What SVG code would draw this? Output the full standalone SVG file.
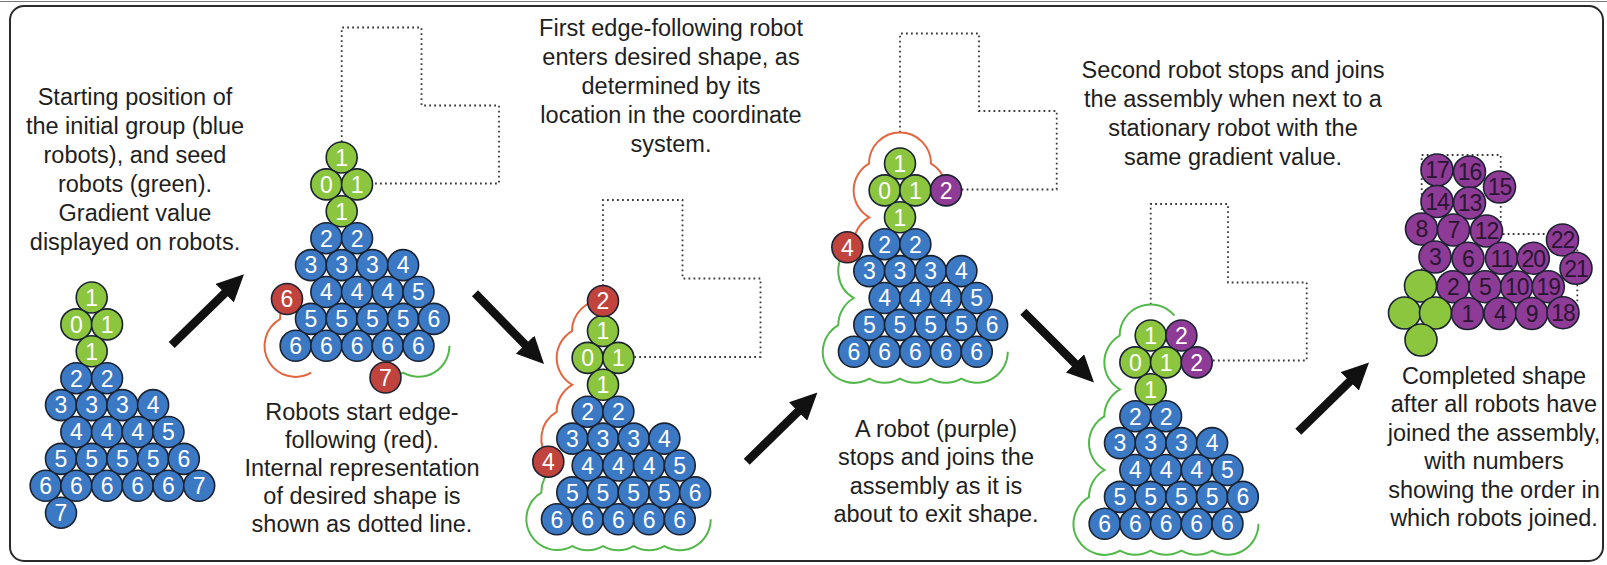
<svg xmlns="http://www.w3.org/2000/svg" width="1607" height="565" viewBox="0 0 1607 565">
<style>
  .txt{font-family:"Liberation Sans",Arial,sans-serif;font-size:23.5px;fill:#1e1e1e;text-anchor:middle}
  .n circle{stroke:#1b2230;stroke-width:1.6}
  .n text{font-family:"Liberation Sans",Arial,sans-serif;font-size:23px;fill:#fff;text-anchor:middle}
  .b circle{fill:#3c79c4}
  .g circle{fill:#8cc63f}
  .r circle{fill:#c0433e}
  .p circle{fill:#8e3b97}
  .q circle{fill:#8e3b97}
  .q text{fill:#2a1630;letter-spacing:-1px}
  .shape{fill:none;stroke:#3a3a3a;stroke-width:1.8;stroke-dasharray:1.8 3.2}
  .ahead{fill:none;stroke:#e2663f;stroke-width:2}
  .behind{fill:none;stroke:#52b84a;stroke-width:2}
  .arrow{stroke:#111;stroke-width:8.5;marker-end:url(#ah)}
</style>
<defs>
  <marker id="ah" markerUnits="userSpaceOnUse" markerWidth="27" markerHeight="26" viewBox="0 0 27 26" refX="3" refY="13" orient="auto">
    <path d="M0,0 L27,13 L0,26 z" fill="#111"/>
  </marker>
</defs>
<rect width="1607" height="565" fill="#fff"/>
<line x1="0" y1="1.5" x2="1607" y2="1.5" stroke="#777" stroke-width="1.2"/>
<rect x="10" y="6" width="1593" height="555" rx="14" fill="#fff" stroke="#2a2a2a" stroke-width="2"/>

<!-- captions -->
<g id="caption-start" class="txt">
  <text x="135" y="105">Starting position of</text>
  <text x="135" y="134">the initial group (blue</text>
  <text x="135" y="163">robots), and seed</text>
  <text x="135" y="192">robots (green).</text>
  <text x="135" y="221">Gradient value</text>
  <text x="135" y="250">displayed on robots.</text>
</g>
<g id="caption-edge" class="txt">
  <text x="362" y="419.5">Robots start edge-</text>
  <text x="362" y="447.5">following (red).</text>
  <text x="362" y="475.5">Internal representation</text>
  <text x="362" y="503.5">of desired shape is</text>
  <text x="362" y="531.5">shown as dotted line.</text>
</g>
<g id="caption-enter" class="txt">
  <text x="671" y="36">First edge-following robot</text>
  <text x="671" y="65">enters desired shape, as</text>
  <text x="671" y="94">determined by its</text>
  <text x="671" y="123">location in the coordinate</text>
  <text x="671" y="152">system.</text>
</g>
<g id="caption-join" class="txt">
  <text x="936" y="436.5">A robot (purple)</text>
  <text x="936" y="465">stops and joins the</text>
  <text x="936" y="493.5">assembly as it is</text>
  <text x="936" y="522">about to exit shape.</text>
</g>
<g id="caption-second" class="txt">
  <text x="1233" y="78">Second robot stops and joins</text>
  <text x="1233" y="107">the assembly when next to a</text>
  <text x="1233" y="136">stationary robot with the</text>
  <text x="1233" y="165">same gradient value.</text>
</g>
<g id="caption-done" class="txt">
  <text x="1494" y="383.5">Completed shape</text>
  <text x="1494" y="412">after all robots have</text>
  <text x="1494" y="440.5">joined the assembly,</text>
  <text x="1494" y="469">with numbers</text>
  <text x="1494" y="497.5">showing the order in</text>
  <text x="1494" y="526">which robots joined.</text>
</g>

<!-- connectors: arrows between stages -->
<g id="connectors">
  <line class="arrow" x1="171.7" y1="345" x2="226.85" y2="291.1"/>
  <line class="arrow" x1="475" y1="293.3" x2="527.25" y2="346.83"/>
  <line class="arrow" x1="746.7" y1="461.7" x2="800.25" y2="409.38"/>
  <line class="arrow" x1="1023.3" y1="311.7" x2="1077.04" y2="365.44"/>
  <line class="arrow" x1="1298.3" y1="431.7" x2="1351.85" y2="379.38"/>
</g>

<!-- stage 1: initial group with seed robots -->
<g id="stage1">
  <g class="n g" transform="translate(91.7,297.5)"><circle r="15.5"/><text y="8.3">1</text></g>
  <g class="n g" transform="translate(76.35,324.4)"><circle r="15.5"/><text y="8.3">0</text></g>
  <g class="n g" transform="translate(107.05,324.4)"><circle r="15.5"/><text y="8.3">1</text></g>
  <g class="n g" transform="translate(91.7,351.3)"><circle r="15.5"/><text y="8.3">1</text></g>
  <g class="n b" transform="translate(76.35,378.2)"><circle r="15.5"/><text y="8.3">2</text></g>
  <g class="n b" transform="translate(107.05,378.2)"><circle r="15.5"/><text y="8.3">2</text></g>
  <g class="n b" transform="translate(61,405.1)"><circle r="15.5"/><text y="8.3">3</text></g>
  <g class="n b" transform="translate(91.7,405.1)"><circle r="15.5"/><text y="8.3">3</text></g>
  <g class="n b" transform="translate(122.4,405.1)"><circle r="15.5"/><text y="8.3">3</text></g>
  <g class="n b" transform="translate(153.1,405.1)"><circle r="15.5"/><text y="8.3">4</text></g>
  <g class="n b" transform="translate(76.35,432)"><circle r="15.5"/><text y="8.3">4</text></g>
  <g class="n b" transform="translate(107.05,432)"><circle r="15.5"/><text y="8.3">4</text></g>
  <g class="n b" transform="translate(137.75,432)"><circle r="15.5"/><text y="8.3">4</text></g>
  <g class="n b" transform="translate(168.45,432)"><circle r="15.5"/><text y="8.3">5</text></g>
  <g class="n b" transform="translate(61,458.9)"><circle r="15.5"/><text y="8.3">5</text></g>
  <g class="n b" transform="translate(91.7,458.9)"><circle r="15.5"/><text y="8.3">5</text></g>
  <g class="n b" transform="translate(122.4,458.9)"><circle r="15.5"/><text y="8.3">5</text></g>
  <g class="n b" transform="translate(153.1,458.9)"><circle r="15.5"/><text y="8.3">5</text></g>
  <g class="n b" transform="translate(183.8,458.9)"><circle r="15.5"/><text y="8.3">6</text></g>
  <g class="n b" transform="translate(45.65,485.8)"><circle r="15.5"/><text y="8.3">6</text></g>
  <g class="n b" transform="translate(76.35,485.8)"><circle r="15.5"/><text y="8.3">6</text></g>
  <g class="n b" transform="translate(107.05,485.8)"><circle r="15.5"/><text y="8.3">6</text></g>
  <g class="n b" transform="translate(137.75,485.8)"><circle r="15.5"/><text y="8.3">6</text></g>
  <g class="n b" transform="translate(168.45,485.8)"><circle r="15.5"/><text y="8.3">6</text></g>
  <g class="n b" transform="translate(199.15,485.8)"><circle r="15.5"/><text y="8.3">7</text></g>
  <g class="n b" transform="translate(61,512.7)"><circle r="15.5"/><text y="8.3">7</text></g>
</g>

<!-- stage 2: edge-following starts -->
<g id="stage2">
  <path class="shape" d="M341.7,142 V27.5 H421.5 V105.5 H499 V183.5 H373"/>
  <path class="ahead" d="M287.1,299.1 A31,31 0 0 0 279.99,319.03 A31,31 0 0 0 311.15,372.65"/>
  <path class="behind" d="M385.55,376.7 A31,31 0 0 0 403.1,372.73 A31,31 0 0 0 449.45,345.8"/>
  <g class="n g" transform="translate(341.7,157.5)"><circle r="15.5"/><text y="8.3">1</text></g>
  <g class="n g" transform="translate(326.35,184.4)"><circle r="15.5"/><text y="8.3">0</text></g>
  <g class="n g" transform="translate(357.05,184.4)"><circle r="15.5"/><text y="8.3">1</text></g>
  <g class="n g" transform="translate(341.7,211.3)"><circle r="15.5"/><text y="8.3">1</text></g>
  <g class="n b" transform="translate(326.35,238.2)"><circle r="15.5"/><text y="8.3">2</text></g>
  <g class="n b" transform="translate(357.05,238.2)"><circle r="15.5"/><text y="8.3">2</text></g>
  <g class="n b" transform="translate(311,265.1)"><circle r="15.5"/><text y="8.3">3</text></g>
  <g class="n b" transform="translate(341.7,265.1)"><circle r="15.5"/><text y="8.3">3</text></g>
  <g class="n b" transform="translate(372.4,265.1)"><circle r="15.5"/><text y="8.3">3</text></g>
  <g class="n b" transform="translate(403.1,265.1)"><circle r="15.5"/><text y="8.3">4</text></g>
  <g class="n b" transform="translate(326.35,292)"><circle r="15.5"/><text y="8.3">4</text></g>
  <g class="n b" transform="translate(357.05,292)"><circle r="15.5"/><text y="8.3">4</text></g>
  <g class="n b" transform="translate(387.75,292)"><circle r="15.5"/><text y="8.3">4</text></g>
  <g class="n b" transform="translate(418.45,292)"><circle r="15.5"/><text y="8.3">5</text></g>
  <g class="n b" transform="translate(311,318.9)"><circle r="15.5"/><text y="8.3">5</text></g>
  <g class="n b" transform="translate(341.7,318.9)"><circle r="15.5"/><text y="8.3">5</text></g>
  <g class="n b" transform="translate(372.4,318.9)"><circle r="15.5"/><text y="8.3">5</text></g>
  <g class="n b" transform="translate(403.1,318.9)"><circle r="15.5"/><text y="8.3">5</text></g>
  <g class="n b" transform="translate(433.8,318.9)"><circle r="15.5"/><text y="8.3">6</text></g>
  <g class="n b" transform="translate(295.65,345.8)"><circle r="15.5"/><text y="8.3">6</text></g>
  <g class="n b" transform="translate(326.35,345.8)"><circle r="15.5"/><text y="8.3">6</text></g>
  <g class="n b" transform="translate(357.05,345.8)"><circle r="15.5"/><text y="8.3">6</text></g>
  <g class="n b" transform="translate(387.75,345.8)"><circle r="15.5"/><text y="8.3">6</text></g>
  <g class="n b" transform="translate(418.45,345.8)"><circle r="15.5"/><text y="8.3">6</text></g>
  <g class="n r" transform="translate(287,299)"><circle r="15.5"/><text y="8.3">6</text></g>
  <g class="n r" transform="translate(385.5,377.5)"><circle r="15.5"/><text y="8.3">7</text></g>
</g>

<!-- stage 3: first robot enters the shape -->
<g id="stage3">
  <path class="shape" d="M603,286 V200 H682.5 V278.5 H760.5 V357 H634.5"/>
  <path class="ahead" d="M550,460.1 A31,31 0 0 1 556.67,411.85 A31,31 0 0 1 572.24,384.8 A31,31 0 0 1 572.02,331.15 A31,31 0 0 1 603,300"/>
  <path class="behind" d="M553.2,468 A31,31 0 0 0 541.29,492.53 A31,31 0 0 0 572.3,546.2 A31,31 0 0 0 603,546.2 A31,31 0 0 0 633.7,546.2 A31,31 0 0 0 664.4,546.2 A31,31 0 0 0 710.75,519.3"/>
  <g class="n g" transform="translate(603,331)"><circle r="15.5"/><text y="8.3">1</text></g>
  <g class="n g" transform="translate(587.65,357.9)"><circle r="15.5"/><text y="8.3">0</text></g>
  <g class="n g" transform="translate(618.35,357.9)"><circle r="15.5"/><text y="8.3">1</text></g>
  <g class="n g" transform="translate(603,384.8)"><circle r="15.5"/><text y="8.3">1</text></g>
  <g class="n b" transform="translate(587.65,411.7)"><circle r="15.5"/><text y="8.3">2</text></g>
  <g class="n b" transform="translate(618.35,411.7)"><circle r="15.5"/><text y="8.3">2</text></g>
  <g class="n b" transform="translate(572.3,438.6)"><circle r="15.5"/><text y="8.3">3</text></g>
  <g class="n b" transform="translate(603,438.6)"><circle r="15.5"/><text y="8.3">3</text></g>
  <g class="n b" transform="translate(633.7,438.6)"><circle r="15.5"/><text y="8.3">3</text></g>
  <g class="n b" transform="translate(664.4,438.6)"><circle r="15.5"/><text y="8.3">4</text></g>
  <g class="n b" transform="translate(587.65,465.5)"><circle r="15.5"/><text y="8.3">4</text></g>
  <g class="n b" transform="translate(618.35,465.5)"><circle r="15.5"/><text y="8.3">4</text></g>
  <g class="n b" transform="translate(649.05,465.5)"><circle r="15.5"/><text y="8.3">4</text></g>
  <g class="n b" transform="translate(679.75,465.5)"><circle r="15.5"/><text y="8.3">5</text></g>
  <g class="n b" transform="translate(572.3,492.4)"><circle r="15.5"/><text y="8.3">5</text></g>
  <g class="n b" transform="translate(603,492.4)"><circle r="15.5"/><text y="8.3">5</text></g>
  <g class="n b" transform="translate(633.7,492.4)"><circle r="15.5"/><text y="8.3">5</text></g>
  <g class="n b" transform="translate(664.4,492.4)"><circle r="15.5"/><text y="8.3">5</text></g>
  <g class="n b" transform="translate(695.1,492.4)"><circle r="15.5"/><text y="8.3">6</text></g>
  <g class="n b" transform="translate(556.95,519.3)"><circle r="15.5"/><text y="8.3">6</text></g>
  <g class="n b" transform="translate(587.65,519.3)"><circle r="15.5"/><text y="8.3">6</text></g>
  <g class="n b" transform="translate(618.35,519.3)"><circle r="15.5"/><text y="8.3">6</text></g>
  <g class="n b" transform="translate(649.05,519.3)"><circle r="15.5"/><text y="8.3">6</text></g>
  <g class="n b" transform="translate(679.75,519.3)"><circle r="15.5"/><text y="8.3">6</text></g>
  <g class="n r" transform="translate(603,301)"><circle r="15.5"/><text y="8.3">2</text></g>
  <g class="n r" transform="translate(548.3,461.7)"><circle r="15.5"/><text y="8.3">4</text></g>
</g>

<!-- stage 4: first robot joins -->
<g id="stage4">
  <path class="shape" d="M900,132.5 V33.5 H979 V111 H1056.7 V189.5 H961.5"/>
  <path class="ahead" d="M848.25,248.32 A31,31 0 0 1 853.64,244.33 A31,31 0 0 1 869.24,217.3 A31,31 0 0 1 868.99,163.63 A31,31 0 0 1 900,132.5 A31,31 0 0 1 931.02,163.63 A31,31 0 0 1 946.35,190.4"/>
  <path class="behind" d="M848.25,248.32 A31,31 0 0 0 853.89,298 A31,31 0 0 0 838.29,325.03 A31,31 0 0 0 869.3,378.73 A31,31 0 0 0 900,378.73 A31,31 0 0 0 930.7,378.73 A31,31 0 0 0 961.4,378.73 A31,31 0 0 0 1007.75,351.8"/>
  <g class="n g" transform="translate(900,163.5)"><circle r="15.5"/><text y="8.3">1</text></g>
  <g class="n g" transform="translate(884.65,190.4)"><circle r="15.5"/><text y="8.3">0</text></g>
  <g class="n g" transform="translate(915.35,190.4)"><circle r="15.5"/><text y="8.3">1</text></g>
  <g class="n p" transform="translate(946.05,190.4)"><circle r="15.5"/><text y="8.3">2</text></g>
  <g class="n g" transform="translate(900,217.3)"><circle r="15.5"/><text y="8.3">1</text></g>
  <g class="n b" transform="translate(884.65,244.2)"><circle r="15.5"/><text y="8.3">2</text></g>
  <g class="n b" transform="translate(915.35,244.2)"><circle r="15.5"/><text y="8.3">2</text></g>
  <g class="n b" transform="translate(869.3,271.1)"><circle r="15.5"/><text y="8.3">3</text></g>
  <g class="n b" transform="translate(900,271.1)"><circle r="15.5"/><text y="8.3">3</text></g>
  <g class="n b" transform="translate(930.7,271.1)"><circle r="15.5"/><text y="8.3">3</text></g>
  <g class="n b" transform="translate(961.4,271.1)"><circle r="15.5"/><text y="8.3">4</text></g>
  <g class="n b" transform="translate(884.65,298)"><circle r="15.5"/><text y="8.3">4</text></g>
  <g class="n b" transform="translate(915.35,298)"><circle r="15.5"/><text y="8.3">4</text></g>
  <g class="n b" transform="translate(946.05,298)"><circle r="15.5"/><text y="8.3">4</text></g>
  <g class="n b" transform="translate(976.75,298)"><circle r="15.5"/><text y="8.3">5</text></g>
  <g class="n b" transform="translate(869.3,324.9)"><circle r="15.5"/><text y="8.3">5</text></g>
  <g class="n b" transform="translate(900,324.9)"><circle r="15.5"/><text y="8.3">5</text></g>
  <g class="n b" transform="translate(930.7,324.9)"><circle r="15.5"/><text y="8.3">5</text></g>
  <g class="n b" transform="translate(961.4,324.9)"><circle r="15.5"/><text y="8.3">5</text></g>
  <g class="n b" transform="translate(992.1,324.9)"><circle r="15.5"/><text y="8.3">6</text></g>
  <g class="n b" transform="translate(853.95,351.8)"><circle r="15.5"/><text y="8.3">6</text></g>
  <g class="n b" transform="translate(884.65,351.8)"><circle r="15.5"/><text y="8.3">6</text></g>
  <g class="n b" transform="translate(915.35,351.8)"><circle r="15.5"/><text y="8.3">6</text></g>
  <g class="n b" transform="translate(946.05,351.8)"><circle r="15.5"/><text y="8.3">6</text></g>
  <g class="n b" transform="translate(976.75,351.8)"><circle r="15.5"/><text y="8.3">6</text></g>
  <g class="n r" transform="translate(847.3,247.3)"><circle r="15.5"/><text y="8.3">4</text></g>
</g>

<!-- stage 5: second robot joins -->
<g id="stage5">
  <path class="shape" d="M1150.7,304.5 V204 H1228 V282.5 H1306.7 V360.5 H1212.3"/>
  <path class="behind" d="M1174.45,315.57 A31,31 0 0 0 1119.69,335.63 A31,31 0 0 0 1119.94,389.3 A31,31 0 0 0 1104.34,416.33 A31,31 0 0 0 1104.59,470 A31,31 0 0 0 1088.99,497.03 A31,31 0 0 0 1120,550.73 A31,31 0 0 0 1150.7,550.73 A31,31 0 0 0 1181.4,550.73 A31,31 0 0 0 1212.1,550.73 A31,31 0 0 0 1258.45,523.8"/>
  <g class="n g" transform="translate(1150.7,335.5)"><circle r="15.5"/><text y="8.3">1</text></g>
  <g class="n p" transform="translate(1181.4,335.5)"><circle r="15.5"/><text y="8.3">2</text></g>
  <g class="n g" transform="translate(1135.35,362.4)"><circle r="15.5"/><text y="8.3">0</text></g>
  <g class="n g" transform="translate(1166.05,362.4)"><circle r="15.5"/><text y="8.3">1</text></g>
  <g class="n p" transform="translate(1196.75,362.4)"><circle r="15.5"/><text y="8.3">2</text></g>
  <g class="n g" transform="translate(1150.7,389.3)"><circle r="15.5"/><text y="8.3">1</text></g>
  <g class="n b" transform="translate(1135.35,416.2)"><circle r="15.5"/><text y="8.3">2</text></g>
  <g class="n b" transform="translate(1166.05,416.2)"><circle r="15.5"/><text y="8.3">2</text></g>
  <g class="n b" transform="translate(1120,443.1)"><circle r="15.5"/><text y="8.3">3</text></g>
  <g class="n b" transform="translate(1150.7,443.1)"><circle r="15.5"/><text y="8.3">3</text></g>
  <g class="n b" transform="translate(1181.4,443.1)"><circle r="15.5"/><text y="8.3">3</text></g>
  <g class="n b" transform="translate(1212.1,443.1)"><circle r="15.5"/><text y="8.3">4</text></g>
  <g class="n b" transform="translate(1135.35,470)"><circle r="15.5"/><text y="8.3">4</text></g>
  <g class="n b" transform="translate(1166.05,470)"><circle r="15.5"/><text y="8.3">4</text></g>
  <g class="n b" transform="translate(1196.75,470)"><circle r="15.5"/><text y="8.3">4</text></g>
  <g class="n b" transform="translate(1227.45,470)"><circle r="15.5"/><text y="8.3">5</text></g>
  <g class="n b" transform="translate(1120,496.9)"><circle r="15.5"/><text y="8.3">5</text></g>
  <g class="n b" transform="translate(1150.7,496.9)"><circle r="15.5"/><text y="8.3">5</text></g>
  <g class="n b" transform="translate(1181.4,496.9)"><circle r="15.5"/><text y="8.3">5</text></g>
  <g class="n b" transform="translate(1212.1,496.9)"><circle r="15.5"/><text y="8.3">5</text></g>
  <g class="n b" transform="translate(1242.8,496.9)"><circle r="15.5"/><text y="8.3">6</text></g>
  <g class="n b" transform="translate(1104.65,523.8)"><circle r="15.5"/><text y="8.3">6</text></g>
  <g class="n b" transform="translate(1135.35,523.8)"><circle r="15.5"/><text y="8.3">6</text></g>
  <g class="n b" transform="translate(1166.05,523.8)"><circle r="15.5"/><text y="8.3">6</text></g>
  <g class="n b" transform="translate(1196.75,523.8)"><circle r="15.5"/><text y="8.3">6</text></g>
  <g class="n b" transform="translate(1227.45,523.8)"><circle r="15.5"/><text y="8.3">6</text></g>
</g>

<!-- stage 6: completed shape, numbered by joining order -->
<g id="stage6">
  <path class="shape" d="M1421.7,270 V155 H1500.7 V234 H1577.3 V312 H1452"/>
  <g class="n q" transform="translate(1437,170)"><circle r="16"/><text y="8.3">17</text></g>
  <g class="n q" transform="translate(1469.5,172)"><circle r="16"/><text y="8.3">16</text></g>
  <g class="n q" transform="translate(1499.5,187)"><circle r="16"/><text y="8.3">15</text></g>
  <g class="n q" transform="translate(1437,201.5)"><circle r="16"/><text y="8.3">14</text></g>
  <g class="n q" transform="translate(1469.5,203)"><circle r="16"/><text y="8.3">13</text></g>
  <g class="n q" transform="translate(1421.5,229)"><circle r="16"/><text y="8.3">8</text></g>
  <g class="n q" transform="translate(1453.5,230)"><circle r="16"/><text y="8.3">7</text></g>
  <g class="n q" transform="translate(1486.5,231)"><circle r="16"/><text y="8.3">12</text></g>
  <g class="n q" transform="translate(1562.5,240)"><circle r="16"/><text y="8.3">22</text></g>
  <g class="n q" transform="translate(1435,257)"><circle r="16"/><text y="8.3">3</text></g>
  <g class="n q" transform="translate(1468,258.3)"><circle r="16"/><text y="8.3">6</text></g>
  <g class="n q" transform="translate(1501.5,258.3)"><circle r="16"/><text y="8.3">11</text></g>
  <g class="n q" transform="translate(1533.3,258.3)"><circle r="16"/><text y="8.3">20</text></g>
  <g class="n q" transform="translate(1576,268.3)"><circle r="16"/><text y="8.3">21</text></g>
  <g class="n g" transform="translate(1420.5,286)"><circle r="16"/></g>
  <g class="n q" transform="translate(1453,286.7)"><circle r="16"/><text y="8.3">2</text></g>
  <g class="n q" transform="translate(1485,286.7)"><circle r="16"/><text y="8.3">5</text></g>
  <g class="n q" transform="translate(1516.7,286.7)"><circle r="16"/><text y="8.3">10</text></g>
  <g class="n q" transform="translate(1548.3,286.7)"><circle r="16"/><text y="8.3">19</text></g>
  <g class="n g" transform="translate(1404.5,313)"><circle r="16"/></g>
  <g class="n g" transform="translate(1435.5,313)"><circle r="16"/></g>
  <g class="n q" transform="translate(1467.5,313.5)"><circle r="16"/><text y="8.3">1</text></g>
  <g class="n q" transform="translate(1500,313.5)"><circle r="16"/><text y="8.3">4</text></g>
  <g class="n q" transform="translate(1531.7,313.5)"><circle r="16"/><text y="8.3">9</text></g>
  <g class="n q" transform="translate(1563,312.7)"><circle r="16"/><text y="8.3">18</text></g>
  <g class="n g" transform="translate(1421,340)"><circle r="16"/></g>
</g>
</svg>
